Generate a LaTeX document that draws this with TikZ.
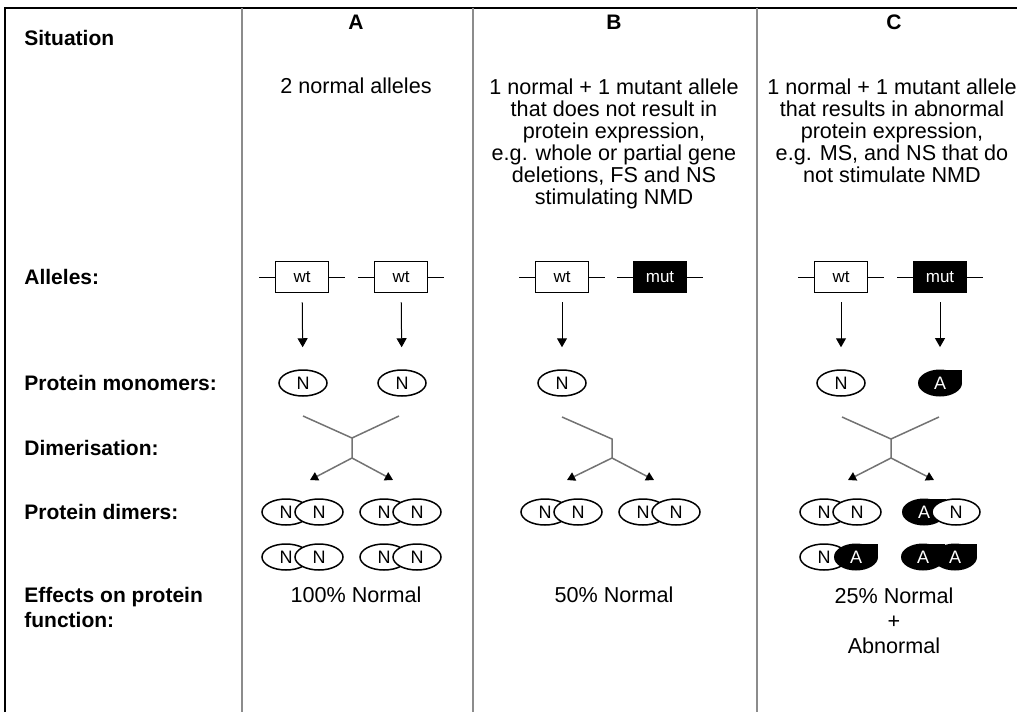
\documentclass[tikz,border=0pt]{standalone}
\usepackage{fontspec}
\setmainfont{Liberation Sans}
\usetikzlibrary{shapes.geometric, arrows.meta}
\tikzset{
    rowlab/.style={anchor=west, align=left, inner sep=0pt, font=\bfseries\fontsize{10.5}{12.5}\selectfont},
    colhead/.style={inner sep=0pt, font=\bfseries\fontsize{10.5}{11}\selectfont},
    txt/.style={align=center, inner sep=0pt, font=\fontsize{10.8}{11}\selectfont},
    allele/.style={draw, line width=0.75pt, fill=white, minimum width=26.5pt, minimum height=15.5pt, inner sep=0pt, font=\fontsize{8.5}{9}\selectfont},
    mut/.style={allele, fill=black, text=white},
    mono/.style={draw, ellipse, line width=0.75pt, fill=white, minimum width=24pt, minimum height=13pt, inner sep=0pt, font=\fontsize{9}{10}\selectfont},
    ablob/.style={minimum width=22pt, minimum height=13.5pt, inner sep=0pt, text=white, font=\fontsize{9}{10}\selectfont,
        path picture={\fill[black] (path picture bounding box.center) ellipse [x radius=11pt, y radius=6.75pt];
                      \fill[black] (path picture bounding box.center) rectangle (path picture bounding box.north east);}},
    colsep/.style={draw=black!45, line width=0.75pt},
    arr/.style={-{Triangle[length=4.5pt,width=5pt]}, line width=0.5pt, shorten <=4.5pt, shorten >=11pt},
    dimline/.style={draw=black!55, line width=0.75pt},
    dimarr/.style={dimline, -{Triangle[length=4pt,width=4.5pt,color=black]}}
}

\begin{document}
\begin{tikzpicture}[x=0.5pt, y=-0.5pt]
    \useasboundingbox (0,0) rectangle (1017,712);
    % frame and columns
    \coordinate (ftl) at (5,8);
    \draw[line width=1pt] (5,712) -- (ftl) -- (1017,8);
    \draw[colsep] (242,8) -- (242,712);
    \draw[colsep] (473,8) -- (473,712);
    \draw[colsep] (757,8) -- (757,712);

    % row labels
    \node[rowlab] (lsit) at (24,38) {Situation};
    \node[rowlab] (lall) at (24,277) {Alleles:};
    \node[rowlab] (lmon) at (24,383) {Protein monomers:};
    \node[rowlab] (ldim) at (24,448) {Dimerisation:};
    \node[rowlab] (lpd) at (24,512) {Protein dimers:};
    \node[rowlab] (leff) at (24,607) {Effects on protein\\function:};

    % situations
    \node[colhead] (hA) at (356,22) {A};
    \node[colhead] (hB) at (614,22) {B};
    \node[colhead] (hC) at (894,22) {C};
    \node[txt] (sA) at (356,86) {2 normal alleles};
    \node[txt, anchor=north] (sB) at (614,78) {1 normal + 1 mutant allele\\that does not result in\\protein expression,\\e.g. whole or partial gene\\deletions, FS and NS\\stimulating NMD};
    \node[txt, anchor=north] (sC) at (892,78) {1 normal + 1 mutant allele\\that results in abnormal\\protein expression,\\e.g. MS, and NS that do\\not stimulate NMD};

    % alleles
    \node[allele] (aA1) at (302,277) {wt};
    \node[allele] (aA2) at (401,277) {wt};
    \node[allele] (aB1) at (562,277) {wt};
    \node[mut] (aB2) at (660,277) {mut};
    \node[allele] (aC1) at (841,277) {wt};
    \node[mut] (aC2) at (940,277) {mut};
    \draw (aA1.west) -- ++(-16,0) (aA1.east) -- ++(16,0);
    \draw (aA2.west) -- ++(-16,0) (aA2.east) -- ++(16,0);
    \draw (aB1.west) -- ++(-16,0) (aB1.east) -- ++(16,0);
    \draw (aB2.west) -- ++(-16,0) (aB2.east) -- ++(16,0);
    \draw (aC1.west) -- ++(-16,0) (aC1.east) -- ++(16,0);
    \draw (aC2.west) -- ++(-16,0) (aC2.east) -- ++(16,0);

    % monomers
    \node[mono] (mA1) at (303,383) {N};
    \node[mono] (mA2) at (402,383) {N};
    \node[mono] (mB1) at (562,383) {N};
    \node[mono] (mC1) at (841,383) {N};
    \node[ablob] (mC2) at (940,383) {A};
    \draw[arr] (aA1) -- (mA1);
    \draw[arr] (aA2) -- (mA2);
    \draw[arr] (aB1) -- (mB1);
    \draw[arr] (aC1) -- (mC1);
    \draw[arr] (aC2) -- (mC2);

    % dimerisation
    \coordinate (pA1) at (303,416);
    \coordinate (pA2) at (399,416);
    \coordinate (jA) at (352,438);
    \coordinate (kA) at (352,458);
    \coordinate (tA1) at (310,480);
    \coordinate (tA2) at (393,480);
    \draw[dimline] (pA1) -- (jA) -- (pA2) (jA) -- (kA);
    \draw[dimarr] (kA) -- (tA1);
    \draw[dimarr] (kA) -- (tA2);

    \coordinate (pB1) at (562,417);
    \coordinate (jB) at (612,439);
    \coordinate (kB) at (612,458);
    \coordinate (tB1) at (567,480);
    \coordinate (tB2) at (654,480);
    \draw[dimline] (pB1) -- (jB) -- (kB);
    \draw[dimarr] (kB) -- (tB1);
    \draw[dimarr] (kB) -- (tB2);

    \coordinate (pC1) at (842,417);
    \coordinate (pC2) at (939,417);
    \coordinate (jC) at (891,439);
    \coordinate (kC) at (891,458);
    \coordinate (tC1) at (848,480);
    \coordinate (tC2) at (934,480);
    \draw[dimline] (pC1) -- (jC) -- (pC2) (jC) -- (kC);
    \draw[dimarr] (kC) -- (tC1);
    \draw[dimarr] (kC) -- (tC2);

    % dimers
    \node[mono] (dA1l) at (286,512) {N};
    \node[mono] (dA1r) at (319,512) {N};
    \node[mono] (dA2l) at (384,512) {N};
    \node[mono] (dA2r) at (417,512) {N};
    \node[mono] (dA3l) at (286,557) {N};
    \node[mono] (dA3r) at (319,557) {N};
    \node[mono] (dA4l) at (384,557) {N};
    \node[mono] (dA4r) at (417,557) {N};

    \node[mono] (dB1l) at (545,512) {N};
    \node[mono] (dB1r) at (578,512) {N};
    \node[mono] (dB2l) at (643,512) {N};
    \node[mono] (dB2r) at (676,512) {N};

    \node[mono] (dC1l) at (824,512) {N};
    \node[mono] (dC1r) at (857,512) {N};
    \node[ablob] (dC2l) at (924,512) {A};
    \node[mono] (dC2r) at (956,512) {N};
    \node[mono] (dC3l) at (824,557) {N};
    \node[ablob] (dC3r) at (856,557) {A};
    \node[ablob] (dC4l) at (923,557) {A};
    \node[ablob] (dC4r) at (955,557) {A};

    % effects
    \node[txt] (eA) at (356,595) {100\% Normal};
    \node[txt] (eB) at (614,595) {50\% Normal};
    \node[txt, anchor=north, font=\fontsize{10.8}{12.5}\selectfont] (eC) at (894,587) {25\% Normal\\+\\Abnormal};
\end{tikzpicture}
\end{document}
